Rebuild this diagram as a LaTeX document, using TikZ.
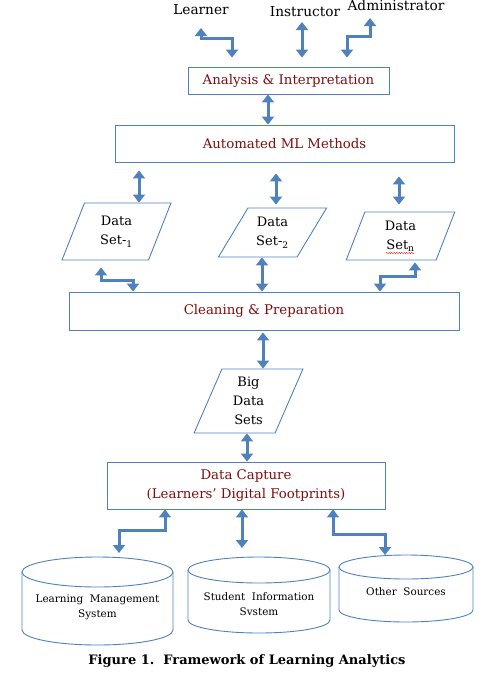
\documentclass[tikz,border=0pt]{standalone}
\usepackage{fontspec}
\setmainfont{DejaVu Serif}
\usetikzlibrary{arrows.meta, shapes.geometric, decorations.pathmorphing}
\definecolor{lablue}{RGB}{79,129,189}
\definecolor{labred}{RGB}{130,12,12}
\tikzset{x=1pt, y=-1pt, % one unit per pixel, y runs downwards
who/.style={ % Roles at the top
inner sep=1pt,
font=\fontsize{13.7}{15}\selectfont},
stage/.style={ % Processing boxes
draw=lablue, line width=0.9pt,
text=labred,
align=center,
font=\fontsize{13.3}{19}\selectfont},
dataset/.style={ % Parallelogram data sets
trapezium, trapezium stretches=true,
draw=lablue, line width=0.9pt,
align=center,
font=\fontsize{13}{19}\selectfont},
source/.style={ % Text inside the cylinders
align=center,
font=\fontsize{10.4}{15}\selectfont},
drum/.style={draw=lablue, line width=0.9pt}, % Cylinder outline
link/.style={ % Thick double arrows
draw=lablue, line width=3pt,
{Triangle[width=12pt,length=8pt]}-{Triangle[width=12pt,length=8pt]}}}
\begin{document}
\begin{tikzpicture}
    \useasboundingbox (0,0) rectangle (495,673);

    % roles
    \node[who] (lrn) at (201,10) {Learner};
    \node[who] (ins) at (305,12) {Instructor};
    \node[who] (adm) at (396,5) {Administrator};
    \coordinate (lrn-end) at (201,28);
    \coordinate (ins-end) at (302,22);
    \coordinate (adm-end) at (370,18);

    % boxes
    \node[stage, minimum width=201pt, minimum height=27pt] (an) at (288.5,80.5) {Analysis \& Interpretation};
    \node[stage, minimum width=339pt, minimum height=37pt] (ml) at (284.5,143.5) {Automated ML Methods};
    \node[stage, minimum width=390pt, minimum height=38pt] (cl) at (264,311) {Cleaning \& Preparation};
    \node[stage, minimum width=278pt, minimum height=47pt] (dc) at (246,485.5) {Data Capture\\(Learners’ Digital Footprints)};

    % data sets
    \node[dataset, trapezium left angle=70, trapezium right angle=110, minimum width=109pt, minimum height=57pt] (ds1) at (116.5,231.5) {Data\\Set-\textsubscript{1}};
    \node[dataset, trapezium left angle=58, trapezium right angle=122, minimum width=109pt, minimum height=49pt] (ds2) at (272.5,232.5) {Data\\Set-\textsubscript{2}};
    \node[dataset, trapezium left angle=75, trapezium right angle=105, minimum width=109pt, minimum height=48pt] (dsn) at (400.5,236) {Data\\Set\textsubscript{n}};
    \node[dataset, trapezium left angle=70, trapezium right angle=110, minimum width=109pt, minimum height=64pt] (bd) at (248.5,401) {Big\\Data\\Sets};
    \draw[red, decorate, decoration={snake, amplitude=0.6pt, segment length=2.5pt}] (386,253) -- (414,253);

    % sources
    \draw[drum] (97.5,572) ellipse [x radius=75.5pt, y radius=15pt];
    \draw[drum] (22,572) -- (22,630) arc[start angle=180, end angle=360, x radius=75.5pt, y radius=15pt] -- (173,572);
    \draw[drum] (259,570) ellipse [x radius=71pt, y radius=13pt];
    \draw[drum] (188,570) -- (188,620) arc[start angle=180, end angle=360, x radius=71pt, y radius=13pt] -- (330,570);
    \draw[drum] (406,567) ellipse [x radius=67pt, y radius=12pt];
    \draw[drum] (339,567) -- (339,610) arc[start angle=180, end angle=360, x radius=67pt, y radius=12pt] -- (473,567);
    \coordinate (lms-top) at (97.5,557);
    \coordinate (sis-top) at (259,557);
    \coordinate (oth-top) at (406,555);
    \node[source] (lms) at (97.5,607.5) {Learning\ \ Management\\System};
    \node[source] (sis) at (259,604) {Student\ \ Information\\Svstem};
    \node[source] (oth) at (406,592) {Other\ \ Sources};

    % caption
    \node[font=\fontsize{13}{15}\selectfont\bfseries] (cap) at (247,661) {Figure 1.\ \ Framework of Learning Analytics};

    % arrows
    \draw[link, shorten >=9pt] (lrn-end) |- (232,38) -- (232,0 |- an.north);
    \draw[link, shorten >=9pt] (ins-end) -- (ins-end |- an.north);
    \draw[link, shorten >=9pt] (adm-end) |- (347,36) -- (347,0 |- an.north);
    \draw[link] (268,0 |- an.south) -- (268,0 |- ml.north);
    \draw[link, shorten <=8pt] (139,0 |- ml.south) -- (139,0 |- ds1.north);
    \draw[link, shorten <=11pt, shorten >=3pt] (276,0 |- ml.south) -- (276,0 |- ds2.north);
    \draw[link, shorten <=14pt, shorten >=7pt] (399,0 |- ml.south) -- (399,0 |- dsn.north);
    \draw[link, shorten <=7pt] (101,0 |- ds1.south) |- (133,280) -- (133,0 |- cl.north);
    \draw[link] (262,0 |- ds2.south) -- (262,0 |- cl.north);
    \draw[link, shorten <=2pt] (415,0 |- dsn.south) |- (380,276) -- (380,0 |- cl.north);
    \draw[link, shorten <=2pt] (263,0 |- cl.south) -- (263,0 |- bd.north);
    \draw[link] (247,0 |- bd.south) -- (247,0 |- dc.north);
    \draw[link, shorten >=4pt] (165,0 |- dc.south) |- (119,530) -- (119,0 |- lms-top);
    \draw[link, shorten >=9pt] (242,0 |- dc.south) -- (242,0 |- sis-top);
    \draw[link] (333,0 |- dc.south) |- (385,534) -- (385,0 |- oth-top);

\end{tikzpicture}
\end{document}
